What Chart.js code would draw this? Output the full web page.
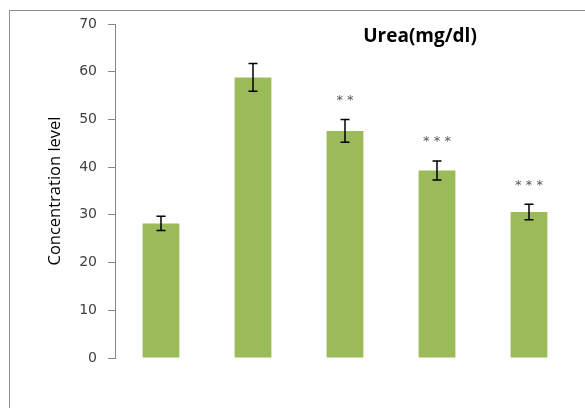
<!DOCTYPE html>
<html>
<head>
<meta charset="utf-8">
<script src="https://cdn.jsdelivr.net/npm/chart.js@4/dist/chart.umd.min.js"></script>
<style>
  html, body { margin:0; padding:0; background:#fff; overflow:hidden; }
  #wrap { position:relative; width:585px; height:408px; }
  #frame { position:absolute; left:9px; top:10px; width:600px; height:420px; border:1px solid #8c8c8c; box-sizing:border-box; }
  canvas { position:absolute; left:0; top:0; }
</style>
</head>
<body>
<div id="wrap">
  <div id="frame"></div>
  <canvas id="c" width="585" height="408"></canvas>
</div>
<script>
const categories = ['Group 1', 'Group 2', 'Group 3', 'Group 4', 'Group 5'];
const values = [28.2, 58.8, 47.6, 39.3, 30.6];
const errors = [1.5, 2.9, 2.4, 2.0, 1.6];
const significance = ['', '', '**', '***', '***'];
const yMin = 0, yMax = 70, yStep = 10;
const chartTitle = 'Urea(mg/dl)';
const yTitle = 'Concentration level';

const extras = {
  id: 'extras',
  afterDatasetsDraw(chart) {
    const ctx = chart.ctx;
    const xs = chart.scales.x, ys = chart.scales.y;
    ctx.save();
    values.forEach((v, i) => {
      const x = xs.getPixelForValue(i);
      const yt = ys.getPixelForValue(v + errors[i]);
      const yb = ys.getPixelForValue(v - errors[i]);
      ctx.strokeStyle = '#000';
      ctx.lineWidth = 1.5;
      ctx.beginPath();
      ctx.moveTo(x, yt); ctx.lineTo(x, yb);
      ctx.moveTo(x - 4.5, yt); ctx.lineTo(x + 4.5, yt);
      ctx.moveTo(x - 4.5, yb); ctx.lineTo(x + 4.5, yb);
      ctx.stroke();
      if (significance[i]) {
        ctx.fillStyle = '#555';
        ctx.font = '13px "DejaVu Sans"';
        ctx.textAlign = 'center';
        ctx.textBaseline = 'middle';
        ctx.fillText(significance[i].split('').join(' '), x, yt - 19);
      }
    });
    const ca = chart.chartArea;
    ctx.fillStyle = '#000';
    ctx.font = 'bold 19px "Open Sans"';
    ctx.textAlign = 'center';
    ctx.textBaseline = 'middle';
    ctx.fillText(chartTitle, ca.left + 305, 37);
    ctx.restore();
  }
};

new Chart(document.getElementById('c'), {
  type: 'bar',
  data: {
    labels: categories,
    datasets: [{
      data: values,
      backgroundColor: '#9BBB59',
      borderWidth: 0,
      categoryPercentage: 1.0,
      barPercentage: 0.4
    }]
  },
  options: {
    responsive: false,
    animation: false,
    devicePixelRatio: 1,
    layout: { padding: { top: 24, bottom: 50, left: 0, right: 10 } },
    plugins: { legend: { display: false }, tooltip: { enabled: false }, title: { display: false } },
    scales: {
      x: { display: false },
      y: {
        min: yMin, max: yMax,
        afterFit(scale) { scale.width = 115; },
        ticks: { stepSize: yStep, color: '#404040', font: { family: 'DejaVu Sans', size: 14 }, padding: 11 },
        grid: { drawOnChartArea: false, drawTicks: true, tickLength: 7, color: '#868686' },
        border: { display: true, color: '#868686' },
        title: { display: true, text: yTitle, color: '#000', font: { family: 'Open Sans', size: 16.5 }, padding: { top: 45, bottom: 0 } }
      }
    }
  },
  plugins: [extras]
});
</script>
</body>
</html>
